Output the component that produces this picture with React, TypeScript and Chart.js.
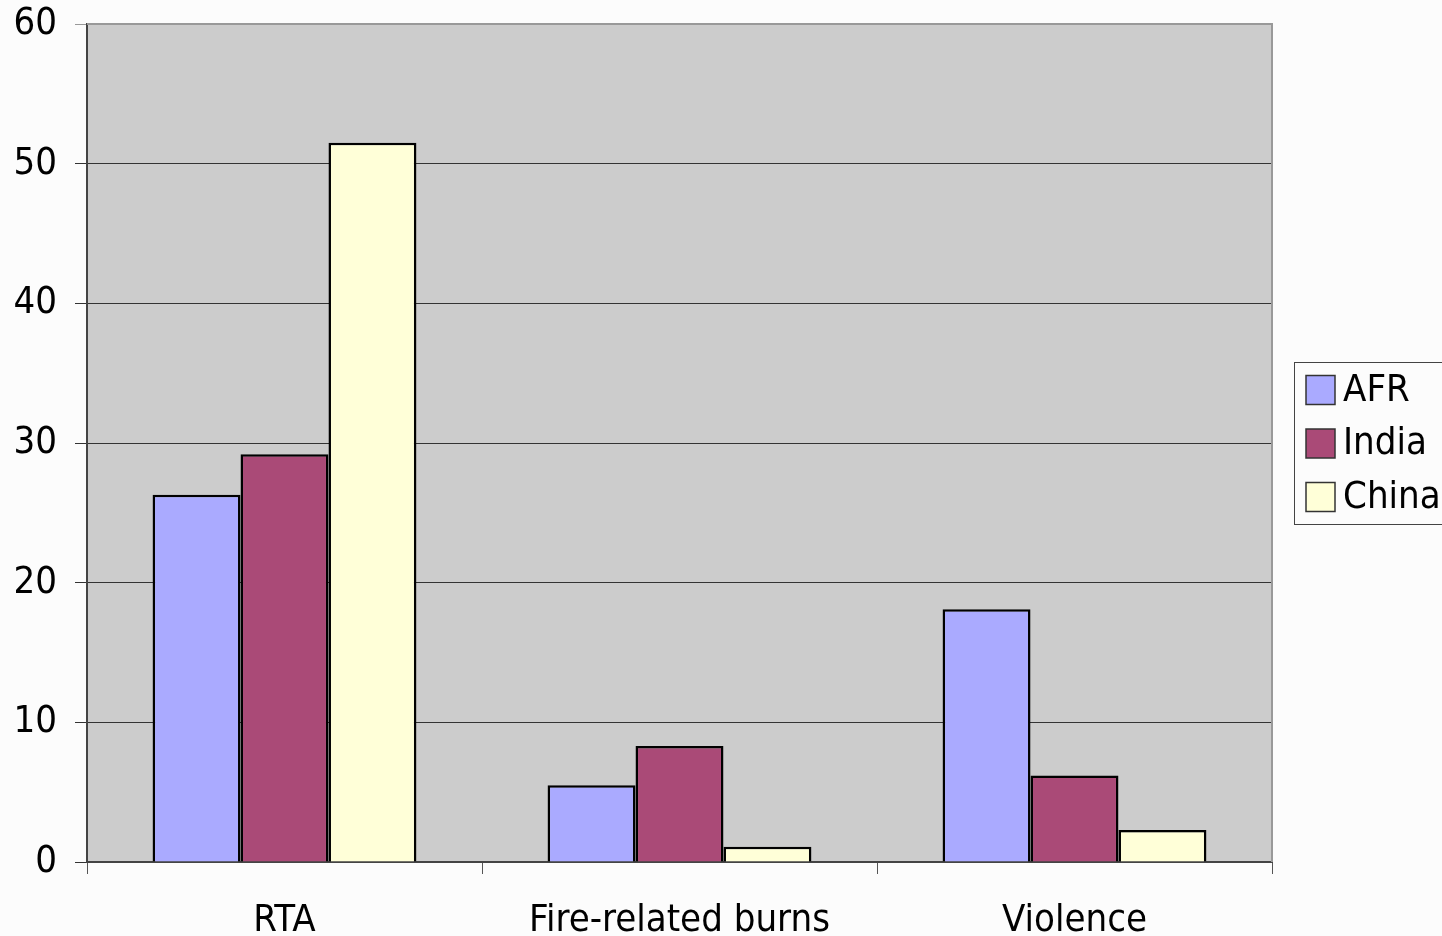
import React, { useEffect, useRef } from "react";
import { Chart, registerables } from "chart.js";

Chart.register(...registerables);

const categories = ["RTA", "Fire-related burns", "Violence"];
const seriesNames = ["AFR", "India", "China"];
const afrValues = [26.3, 5.5, 18.1];
const indiaValues = [29.2, 8.3, 6.2];
const chinaValues = [51.5, 1.1, 2.3];
const seriesColors = ["#aaaaff", "#aa4a77", "#ffffd8"];
const yTicks = [0, 10, 20, 30, 40, 50, 60];

const FONT = "'DejaVu Sans Condensed', 'DejaVu Sans', sans-serif";

const plotBg = {
  id: "plotBg",
  beforeDraw(chart: any) {
    const { ctx, chartArea, width, height } = chart;
    ctx.save();
    ctx.fillStyle = "#fcfcfc";
    ctx.fillRect(0, 0, width, height);
    ctx.fillStyle = "#cccccc";
    ctx.fillRect(chartArea.left, chartArea.top, chartArea.right - chartArea.left, chartArea.bottom - chartArea.top);
    ctx.restore();
  },
  afterDraw(chart: any) {
    const { ctx, chartArea } = chart;
    ctx.save();
    ctx.strokeStyle = "#999999";
    ctx.lineWidth = 2;
    ctx.beginPath();
    ctx.moveTo(chartArea.left, chartArea.top);
    ctx.lineTo(chartArea.right, chartArea.top);
    ctx.lineTo(chartArea.right, chartArea.bottom);
    ctx.stroke();
    ctx.restore();
  },
};

const boxLegend = {
  id: "boxLegend",
  afterDraw(chart: any) {
    const { ctx } = chart;
    const x0 = 1294, y0 = 362, y1 = 524;
    ctx.save();
    ctx.fillStyle = "#fcfcfc";
    ctx.fillRect(x0, y0, 200, y1 - y0);
    ctx.strokeStyle = "#444444";
    ctx.lineWidth = 1;
    ctx.strokeRect(x0 + 0.5, y0 + 0.5, 200, y1 - y0);
    ctx.font = `38px ${FONT}`;
    ctx.textBaseline = "middle";
    ctx.textAlign = "left";
    chart.data.datasets.forEach((ds: any, i: number) => {
      const cy = 390 + i * 53.5;
      ctx.fillStyle = ds.backgroundColor;
      ctx.fillRect(1306, cy - 14.5, 29, 29);
      ctx.strokeStyle = "#333333";
      ctx.lineWidth = 1.5;
      ctx.strokeRect(1306, cy - 14.5, 29, 29);
      ctx.fillStyle = "#000000";
      ctx.fillText(ds.label, 1343, cy + 1);
    });
    ctx.restore();
  },
};

export default function App() {
  const ref = useRef<HTMLCanvasElement | null>(null);

  useEffect(() => {
    document.body.style.margin = "0";
    const values = [afrValues, indiaValues, chinaValues];
    const chart = new Chart(ref.current as HTMLCanvasElement, {
      type: "bar",
      data: {
        labels: categories,
        datasets: seriesNames.map((name, i) => ({
          label: name,
          data: values[i],
          backgroundColor: seriesColors[i],
          borderColor: "#000000",
          borderWidth: 2.5,
          barPercentage: 1,
          categoryPercentage: 0.668,
        })),
      },
      options: {
        animation: false,
        responsive: false,
        devicePixelRatio: 1,
        layout: { padding: { top: 24, right: 170, left: 0, bottom: 0 } },
        plugins: {
          legend: { display: false },
          tooltip: { enabled: false },
        },
        scales: {
          x: {
            afterFit(scale: any) {
              scale.height = 74;
              scale.paddingLeft = 0;
              scale.paddingRight = 0;
            },
            grid: {
              offset: true,
              drawOnChartArea: false,
              drawTicks: true,
              tickLength: 12,
              color: "#555555",
              lineWidth: 1,
            },
            border: { display: true, color: "#444444", width: 2 },
            ticks: {
              color: "#000000",
              font: { family: FONT, size: 38 },
              padding: 24,
              maxRotation: 0,
            },
          },
          y: {
            min: 0,
            max: 60,
            afterFit(scale: any) {
              scale.width = 87;
              scale.paddingTop = 0;
              scale.paddingBottom = 0;
            },
            afterBuildTicks(scale: any) {
              scale.ticks = yTicks.map((v) => ({ value: v }));
            },
            grid: {
              color: (c: any) => (c.tick && c.tick.value === 60 ? "#999999" : "#333333"),
              lineWidth: 1,
              tickLength: 12,
            },
            border: { display: true, color: "#444444", width: 2 },
            ticks: {
              color: "#000000",
              font: { family: FONT, size: 38 },
              padding: 18,
            },
          },
        },
      },
      plugins: [plotBg, boxLegend],
    });
    return () => chart.destroy();
  }, []);

  return (
    <div style={{ position: "absolute", left: 0, top: 0, width: 1442, height: 936 }}>
      <canvas ref={ref} width={1442} height={936} style={{ width: 1442, height: 936 }} />
    </div>
  );
}
